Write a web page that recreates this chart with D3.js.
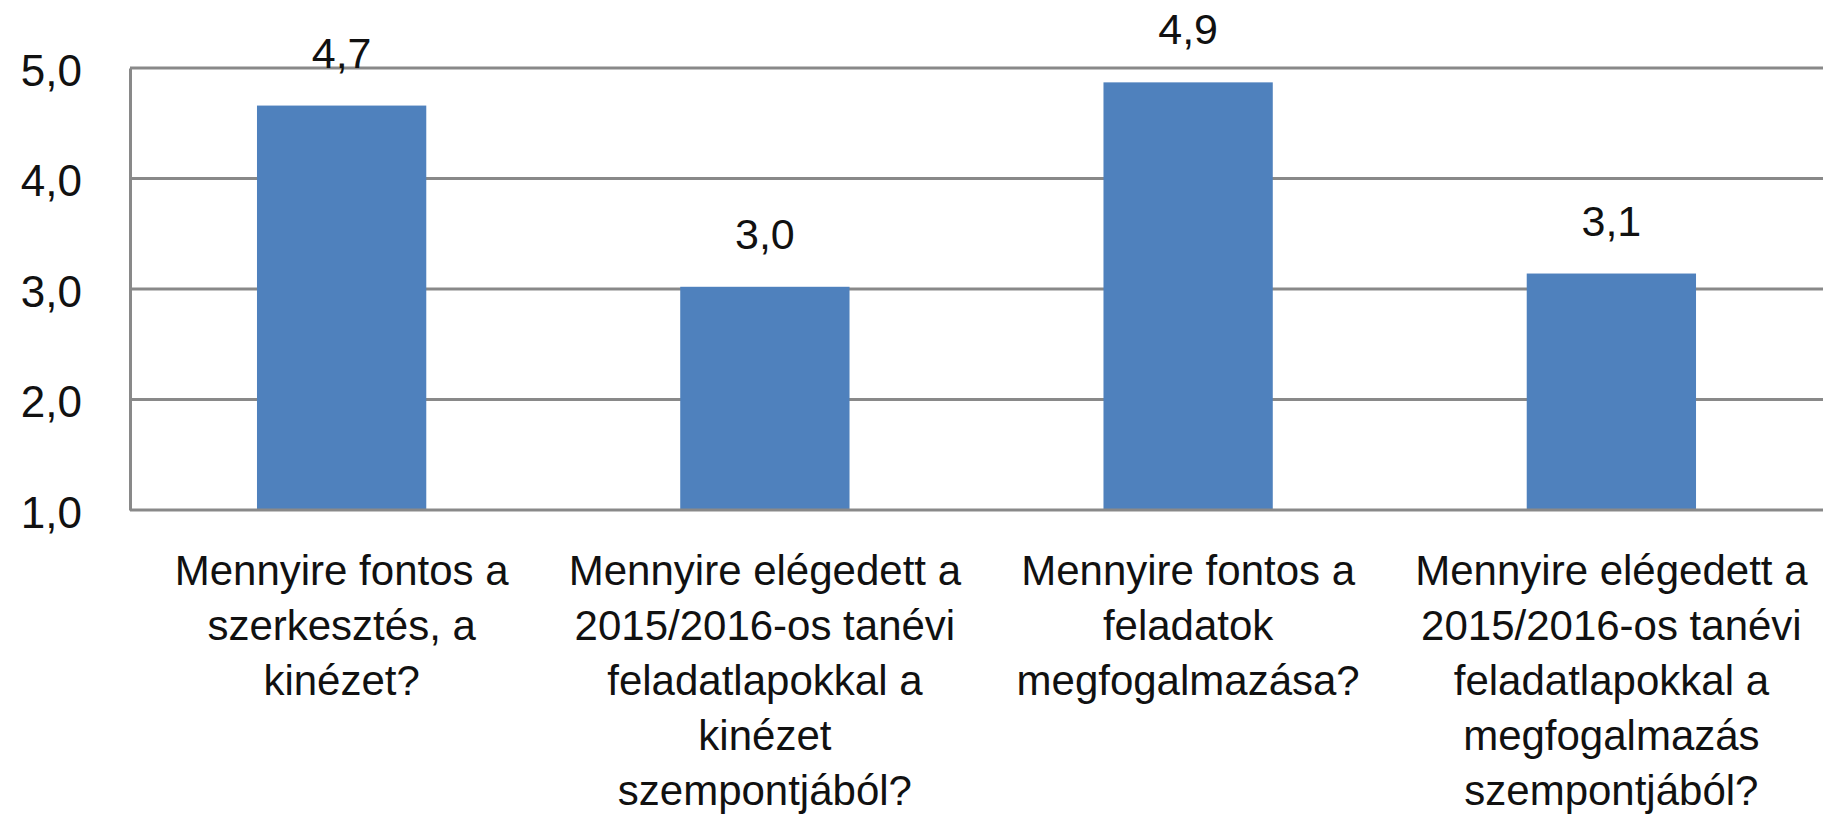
<!DOCTYPE html>
<html>
<head>
<meta charset="utf-8">
<script src="https://cdn.jsdelivr.net/npm/d3@7"></script>
<style>
  body { margin: 0; background: #fff; }
  svg text { font-family: "Liberation Sans", Arial, sans-serif; fill: #111; }
</style>
</head>
<body>
<svg id="chart" width="1834" height="821"></svg>
<script>
// data
var categories = ["q1", "q2", "q3", "q4"];
var categoryLines = [
  ["Mennyire fontos a", "szerkesztés, a", "kinézet?"],
  ["Mennyire elégedett a", "2015/2016-os tanévi", "feladatlapokkal a", "kinézet", "szempontjából?"],
  ["Mennyire fontos a", "feladatok", "megfogalmazása?"],
  ["Mennyire elégedett a", "2015/2016-os tanévi", "feladatlapokkal a", "megfogalmazás", "szempontjából?"]
];
var values = [4.66, 3.02, 4.87, 3.14];
var yTicks = [1, 2, 3, 4, 5];

var huLocale = d3.formatLocale({ decimal: ",", thousands: " ", grouping: [3], currency: ["", " Ft"] });
var fmt = huLocale.format(".1f");

var margin = { top: 68, right: 11, bottom: 311, left: 130 },
    width = 1834 - margin.left - margin.right,
    height = 821 - margin.top - margin.bottom;

var svg = d3.select("#chart");
var g = svg.append("g")
    .attr("transform", "translate(" + margin.left + "," + margin.top + ")");

// scales
var x = d3.scaleBand().domain(categories).range([0, width])
    .paddingInner(0.6).paddingOuter(0.3);
var y = d3.scaleLinear().domain([1, 5]).range([height, 0]);

// gridlines
g.append("g")
  .selectAll("line")
  .data(yTicks.slice(1))
  .enter().append("line")
    .attr("x1", 0).attr("x2", width)
    .attr("y1", function(d) { return y(d); })
    .attr("y2", function(d) { return y(d); })
    .attr("stroke", "#898989")
    .attr("stroke-width", 3);

// bars
g.selectAll(".bar")
  .data(values)
  .enter().append("rect")
    .attr("class", "bar")
    .attr("x", function(d, i) { return x(categories[i]); })
    .attr("width", x.bandwidth())
    .attr("y", function(d) { return y(d); })
    .attr("height", function(d) { return height - y(d); })
    .attr("fill", "#4f81bd");

// value labels
g.selectAll(".val")
  .data(values)
  .enter().append("text")
    .attr("class", "val")
    .attr("x", function(d, i) { return x(categories[i]) + x.bandwidth() / 2; })
    .attr("y", function(d) { return y(d) - 38; })
    .attr("text-anchor", "middle")
    .style("font-size", "43px")
    .text(function(d) { return fmt(d); });

// y axis
var yAxis = g.append("g")
    .call(d3.axisLeft(y).tickValues(yTicks).tickSize(0).tickPadding(48).tickFormat(fmt));
yAxis.select(".domain").attr("stroke", "#898989").attr("stroke-width", 3);
yAxis.selectAll("text")
    .style("font-size", "44px")
    .attr("dy", "0.39em");

// x axis
var xAxis = g.append("g")
    .attr("transform", "translate(0," + height + ")")
    .call(d3.axisBottom(x).tickSize(0).tickFormat(""));
xAxis.select(".domain").attr("stroke", "#898989").attr("stroke-width", 3)
    .attr("d", "M0,0H" + width);

// category labels
var lbl = g.append("g").selectAll(".cat")
  .data(categories)
  .enter().append("text")
    .attr("class", "cat")
    .attr("text-anchor", "middle")
    .style("font-size", "42px")
    .attr("transform", function(d) {
      return "translate(" + (x(d) + x.bandwidth() / 2) + "," + (height + 75) + ")";
    });
lbl.selectAll("tspan")
  .data(function(d, i) { return categoryLines[i]; })
  .enter().append("tspan")
    .attr("x", 0)
    .attr("y", function(d, j) { return j * 55; })
    .text(function(d) { return d; });
</script>
</body>
</html>
